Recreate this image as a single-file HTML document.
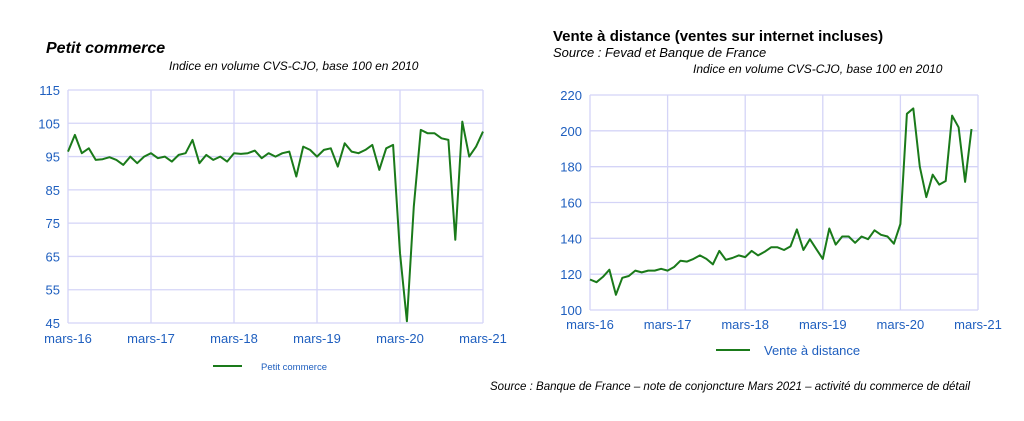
<!DOCTYPE html>
<html><head><meta charset="utf-8"><style>
html,body{margin:0;padding:0;background:#fff;}
svg{display:block;font-family:"Liberation Sans",sans-serif;}
</style></head><body>
<svg id="s" width="1024" height="421" viewBox="0 0 1024 421" xmlns="http://www.w3.org/2000/svg">
<rect width="1024" height="421" fill="#fff"/>
<text x="46" y="53" font-size="16" font-weight="bold" font-style="italic" fill="#000">Petit commerce</text>
<text x="169" y="70" font-size="12" font-style="italic" fill="#000">Indice en volume CVS-CJO, base 100 en 2010</text>
<text x="553" y="41" font-size="15" font-weight="bold" fill="#000">Vente à distance (ventes sur internet incluses)</text>
<text x="553" y="57" font-size="13" font-style="italic" fill="#000">Source : Fevad et Banque de France</text>
<text x="693" y="73" font-size="12" font-style="italic" fill="#000">Indice en volume CVS-CJO, base 100 en 2010</text>
<g id="g1"></g><g id="g2"></g>
<line x1="213" y1="366" x2="242" y2="366" stroke="#1a7a1a" stroke-width="2"/>
<text x="261" y="370" font-size="9.5" fill="#1f5fbf">Petit commerce</text>
<line x1="716" y1="350" x2="750" y2="350" stroke="#1a7a1a" stroke-width="2"/>
<text x="764" y="355" font-size="13" fill="#1f5fbf">Vente à distance</text>
<text x="490" y="390" font-size="11.5" font-style="italic" fill="#000" font-family="Liberation Sans Narrow, Liberation Sans, sans-serif">Source : Banque de France – note de conjoncture Mars 2021 – activité du commerce de détail</text>
</svg>
<script>
var NS="http://www.w3.org/2000/svg";
function el(p,t,a,txt){var e=document.createElementNS(NS,t);for(var k in a)e.setAttribute(k,a[k]);if(txt!==undefined)e.textContent=txt;p.appendChild(e);return e;}
function chart(g,x0,x1,y0,y1,vmin,vmax,step,data,labY,tickX){
  g=document.getElementById(g);
  var Y=function(v){return y1-(v-vmin)/(vmax-vmin)*(y1-y0);};
  for(var v=vmin;v<=vmax+0.01;v+=step){var y=Y(v);
    el(g,"line",{x1:x0,x2:x1,y1:y,y2:y,stroke:"#d4d4f7","stroke-width":1.3});
    el(g,"text",{x:x0-8,y:y+5,"font-size":13,fill:"#1f5fbf","text-anchor":"end"},String(v));}
  var labs=["mars-16","mars-17","mars-18","mars-19","mars-20","mars-21"];
  for(var i=0;i<6;i++){var x=x0+(x1-x0)*i/5;
    el(g,"line",{x1:x,x2:x,y1:y0,y2:y1,stroke:"#d4d4f7","stroke-width":1.3});
    el(g,"text",{x:x+tickX,y:labY,"font-size":13,fill:"#1f5fbf","text-anchor":"middle"},labs[i]);}
  var pts=data.map(function(v,i){return (x0+(x1-x0)*i/60).toFixed(1)+","+Y(v).toFixed(1);}).join(" ");
  el(g,"polyline",{points:pts,fill:"none",stroke:"#1a7a1a","stroke-width":2,"stroke-linejoin":"round"});
}
chart("g1",68,483,90,323,45,115,10,[96.5,101.5,96,97.5,94,94.2,94.8,94,92.5,95,93,95,96,94.5,95,93.5,95.5,96,100,93,95.5,94,95,93.5,96,95.8,96,96.8,94.5,96,95,96,96.5,89,98,97,95,97,97.5,92,99,96.5,96,97,98.5,91,97.5,98.5,66,45.5,80,103,102,102,100.5,100,70,105.5,95,98,102.5],343,0);
chart("g2",590,978,95,310,100,220,20,[117,115.5,118.5,122.5,108.5,118,119,122,121,122,122,123,122,124,127.5,127,128.5,130.5,128.5,125.5,133,128,129,130.5,129.5,133,130.5,132.5,135,135,133.5,135.5,145,133.5,139.5,134,128.5,145.5,136.5,141,141,137.5,141,139.5,144.5,142,141,137,148,209.5,212.5,180,163,175.5,170,172,208.5,202,171.5,201],329,0);
</script>
</body></html>
